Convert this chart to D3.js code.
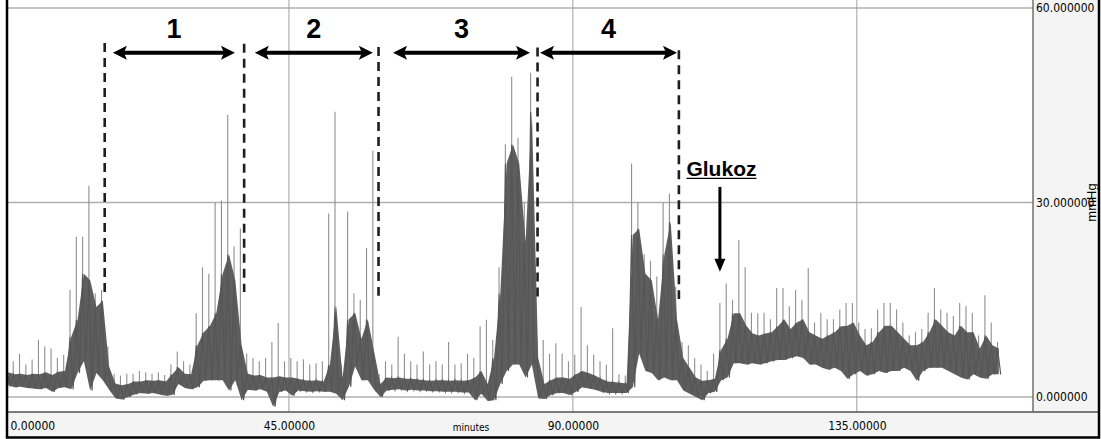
<!DOCTYPE html>
<html>
<head>
<meta charset="utf-8">
<script src="https://cdn.jsdelivr.net/npm/d3@7"></script>
<style>
  html, body { margin: 0; padding: 0; background: #fff; }
  svg { display: block; }
</style>
</head>
<body>
<svg id="chart" width="1101" height="439"></svg>
<script>
// Pressure trace summarised per minute: lower and upper edge of the noise band,
// and the tallest spike seen within that minute (mmHg).
const bandLow = [
  1.8,1.5,1.6,1.4,1.3,1.2,1.4,0.8,1.4,1.5,
  1.2,3.7,5.5,1.0,3.7,2.6,1.1,-0.2,-0.4,0.0,
  0.4,0.6,0.5,0.6,0.4,0.2,0.3,2.0,1.4,1.2,
  1.5,2.5,2.6,2.6,2.6,1.0,2.6,-0.5,1.1,1.0,
  1.2,0.8,-1.5,0.8,1.0,0.2,1.0,0.9,0.8,0.9,
  0.8,0.8,0.5,-0.5,1.6,4.7,2.6,2.6,1.1,0.0,
  1.0,1.1,1.2,1.0,1.1,1.0,1.0,0.9,0.9,0.8,
  0.8,0.8,0.7,0.7,-0.5,0.5,-0.6,-0.5,2.0,4.0,
  5.0,5.0,3.0,5.0,-0.2,-0.3,0.3,0.6,0.6,0.3,
  0.8,1.5,1.3,1.1,0.8,0.6,0.6,0.6,0.6,1.5,
  6.7,4.0,3.7,2.6,3.0,2.6,2.6,1.0,0.5,0.0,
  -0.5,0.6,0.8,2.6,3.0,5.2,5.2,5.0,5.2,5.0,
  5.2,5.5,5.7,5.7,6.0,6.3,6.0,5.0,5.0,4.5,
  4.2,4.5,4.0,2.8,3.5,4.0,3.3,3.5,4.0,3.7,
  4.0,4.0,4.5,4.0,2.5,4.0,4.5,4.5,4.5,4.0,
  3.5,3.0,2.7,3.5,3.0,2.8,3.5,3.5
];
const bandHigh = [
  3.8,3.5,3.6,3.4,3.6,3.5,3.8,3.4,3.9,4.0,
  9.3,11.9,19.0,18.0,13.9,14.9,4.7,2.1,1.8,2.0,
  2.4,2.4,2.6,2.5,2.6,2.4,3.5,4.6,3.6,3.5,
  8.0,10.0,11.0,13.0,19.0,22.0,18.0,8.0,3.6,3.3,
  3.4,3.0,3.0,3.2,3.0,3.0,2.8,2.6,2.5,2.6,
  2.4,5.0,14.0,3.0,12.0,13.0,9.0,12.0,7.0,2.0,
  3.0,2.9,3.0,2.8,2.8,2.7,2.6,2.5,2.6,2.6,
  2.5,2.6,2.5,2.6,3.0,4.0,2.0,6.0,16.0,36.0,
  39.0,36.0,24.0,44.0,6.0,2.0,2.6,3.0,3.0,2.8,
  3.5,4.0,3.7,3.3,2.8,2.4,2.3,2.2,2.1,25.0,
  26.0,19.0,18.0,12.0,22.0,27.0,12.0,6.0,4.5,3.0,
  2.5,2.6,2.8,7.3,9.0,12.9,12.9,11.0,9.8,9.5,
  9.8,10.0,10.9,12.0,10.5,11.5,12.0,10.0,9.5,9.0,
  9.5,10.0,10.9,11.0,11.5,9.5,8.0,8.5,10.0,11.0,
  11.0,10.0,9.0,8.0,8.0,8.5,10.0,12.0,11.0,10.0,
  9.5,11.0,10.0,10.0,7.5,9.5,8.0,7.5
];
const spikePeak = [
  6.0,5.5,6.7,5.0,5.8,8.8,7.8,7.5,6.0,6.5,
  16.5,24.7,24.7,32.6,16.0,16.5,7.8,3.6,3.3,3.6,
  3.6,4.0,3.8,3.6,3.8,3.4,5.0,7.0,5.5,5.0,
  12.9,20.0,19.0,30.0,30.3,43.5,23.2,26.0,6.7,6.0,
  5.5,6.0,8.5,11.4,5.5,6.0,5.5,5.8,5.0,5.2,
  5.5,28.3,44.0,5.0,28.6,16.0,15.0,23.0,38.0,3.5,
  5.5,5.0,9.3,6.7,5.5,5.0,7.0,5.0,5.5,5.0,
  8.5,5.0,5.2,6.7,6.0,10.9,11.9,8.8,20.0,39.0,
  49.4,40.0,30.0,50.0,9.0,8.8,6.7,8.3,6.7,5.5,
  6.5,13.9,8.0,6.5,5.5,5.0,10.6,3.5,3.3,36.0,
  30.0,22.0,21.0,18.6,30.0,31.4,17.0,8.5,8.0,6.0,
  5.0,4.0,6.7,14.5,17.5,15.0,24.2,20.0,13.0,12.9,
  13.0,12.0,16.8,16.8,14.0,16.5,15.0,19.9,11.5,13.0,
  12.0,12.0,13.5,14.5,14.5,11.5,10.5,10.6,13.5,14.5,
  14.5,13.5,11.5,9.5,10.0,10.5,13.0,16.8,13.5,13.0,
  12.5,14.5,14.0,13.0,9.5,15.7,11.5,8.5
];

// Axis ticks and titles
const xTicks = [0, 45, 90, 135];
const yTicks = [0, 30, 60];
const xTitle = "minutes";
const yTitle = "mmHg";

// Protocol annotations (minutes / mmHg)
const phaseEdges   = [15.8, 37.9, 59.2, 84.4, 106.8];
const phaseEdgeTop = [54.6, 54.5, 54.0, 53.9, 53.5];
const phaseEdgeBot = [16.2, 16.2, 15.6, 15.3, 15.1];
const phaseSpans   = [[17.1, 36.45], [39.6, 58.3], [61.5, 83.2], [84.8, 106.5]];
const phaseNames   = ["1", "2", "3", "4"];
const glucoseText  = "Glukoz";
const glucoseTime  = 113.3;
const glucoseFrom  = 32.4;
const glucoseTo    = 19.3;
const glucoseTextStart = 108.0;

// ---- layout ----
const W = 1101, H = 439;
const plot = { left: 8, right: 1033, top: 0, bottom: 412 };
const frame = { right: 1099, bottom: 437.5 };

const x = d3.scaleLinear().domain([0, 163]).range([5, 1033.5]);
const y = d3.scaleLinear().domain([0, 60]).range([397, 8]);

const svg = d3.select("#chart");
const tickFont = "'Liberation Sans Narrow', 'Arial Narrow', 'DejaVu Sans Condensed', sans-serif";
const plainFont = "'Liberation Sans', Arial, sans-serif";

svg.append("rect").attr("width", W).attr("height", H).attr("fill", "#fff");

// axis strips
svg.append("rect")
  .attr("x", plot.right).attr("y", 0)
  .attr("width", frame.right - plot.right).attr("height", plot.bottom)
  .attr("fill", "#f4f4f4");
svg.append("rect")
  .attr("x", plot.left).attr("y", plot.bottom)
  .attr("width", frame.right - plot.left).attr("height", frame.bottom - plot.bottom)
  .attr("fill", "#f4f4f4");

// grid
const grid = svg.append("g");
grid.selectAll("line.h").data(yTicks).join("line")
  .attr("x1", plot.left).attr("x2", plot.right)
  .attr("y1", d => y(d)).attr("y2", d => y(d))
  .attr("stroke", "#b0b0b0").attr("stroke-width", 1.6);
grid.selectAll("line.v").data(xTicks.filter(d => d > 0)).join("line")
  .attr("x1", d => x(d)).attr("x2", d => x(d))
  .attr("y1", plot.top).attr("y2", plot.bottom)
  .attr("stroke", "#a0a0a0").attr("stroke-width", 1);

// trace
svg.append("clipPath").attr("id", "plotClip")
  .append("rect")
  .attr("x", plot.left).attr("y", plot.top)
  .attr("width", plot.right - plot.left).attr("height", plot.bottom - plot.top);

const trace = svg.append("g").attr("clip-path", "url(#plotClip)");
const bins = bandLow.map((lo, i) => ({ t: i, lo, hi: bandHigh[i], pk: spikePeak[i] }));

// spikes
trace.selectAll("line.spike").data(bins).join("line")
  .attr("x1", d => x(d.t + 0.3)).attr("x2", d => x(d.t + 0.3))
  .attr("y1", d => y(d.hi)).attr("y2", d => y(d.pk))
  .attr("stroke", "#8f8f8f").attr("stroke-width", 1.1);

// band envelope
trace.append("path")
  .datum(bins)
  .attr("d", d3.area()
    .x(d => x(d.t + 0.5))
    .y0(d => y(d.lo))
    .y1(d => y(d.hi)))
  .attr("fill", "#5e5e5e");

// band texture: peak and trough of each minute in turn
const zig = [];
bins.forEach(d => { zig.push([d.t + 0.3, d.hi]); zig.push([d.t + 0.8, d.lo]); });
trace.append("path")
  .datum(zig)
  .attr("d", d3.line().x(d => x(d[0])).y(d => y(d[1])))
  .attr("fill", "none")
  .attr("stroke", "#565656")
  .attr("stroke-width", 1.2);

// separators and frame
svg.append("line").attr("x1", plot.left).attr("x2", frame.right)
  .attr("y1", plot.bottom).attr("y2", plot.bottom)
  .attr("stroke", "#505050").attr("stroke-width", 1.5);
svg.append("line").attr("x1", plot.right).attr("x2", plot.right)
  .attr("y1", 0).attr("y2", plot.bottom)
  .attr("stroke", "#707070").attr("stroke-width", 1.5);
svg.append("path")
  .attr("d", `M7,0 V${frame.bottom} H${frame.right} V0`)
  .attr("fill", "none").attr("stroke", "#000").attr("stroke-width", 2.5);

// bottom axis labels
const fmtX = d3.format(".5f");
const xLab = svg.append("g")
  .attr("transform", `translate(0,${plot.bottom})`)
  .call(d3.axisBottom(x).tickValues(xTicks).tickSize(0).tickPadding(0).tickFormat(fmtX));
xLab.select(".domain").remove();
xLab.selectAll("text")
  .attr("y", 18).attr("dy", 0)
  .attr("fill", "#000")
  .style("font-family", tickFont).style("font-size", "12px");
xLab.selectAll(".tick").filter(d => d === 0).select("text")
  .attr("text-anchor", "start").attr("x", 5);

svg.append("text")
  .attr("x", 471).attr("y", plot.bottom + 19)
  .attr("text-anchor", "middle")
  .style("font-family", tickFont).style("font-size", "10px")
  .text(xTitle);

// right axis labels
const fmtY = d3.format(".6f");
const yLab = svg.append("g")
  .attr("transform", `translate(${plot.right},0)`)
  .call(d3.axisRight(y).tickValues(yTicks).tickSize(0).tickPadding(3).tickFormat(fmtY));
yLab.select(".domain").remove();
yLab.selectAll("text")
  .attr("fill", "#000")
  .style("font-family", tickFont).style("font-size", "12px");

svg.append("text")
  .attr("transform", `translate(1096,${y(30)}) rotate(-90)`)
  .attr("text-anchor", "middle")
  .style("font-family", plainFont).style("font-size", "13px")
  .text(yTitle);

// ---- annotations ----
const ann = svg.append("g");

ann.selectAll("line.edge").data(phaseEdges).join("line")
  .attr("x1", d => x(d)).attr("x2", d => x(d))
  .attr("y1", (d, i) => y(phaseEdgeTop[i])).attr("y2", (d, i) => y(phaseEdgeBot[i]))
  .attr("stroke", "#1e1e1e").attr("stroke-width", 2.6)
  .attr("stroke-dasharray", "9,6");

const arrowY = y(53.1);
phaseSpans.forEach(([a, b], i) => {
  const x1 = x(a), x2 = x(b);
  ann.append("line")
    .attr("x1", x1 + 8).attr("x2", x2 - 8)
    .attr("y1", arrowY).attr("y2", arrowY)
    .attr("stroke", "#000").attr("stroke-width", 4);
  ann.append("path")
    .attr("d", `M${x1},${arrowY} L${x1 + 14},${arrowY - 7} L${x1 + 11},${arrowY} L${x1 + 14},${arrowY + 7} Z`)
    .attr("fill", "#000");
  ann.append("path")
    .attr("d", `M${x2},${arrowY} L${x2 - 14},${arrowY - 7} L${x2 - 11},${arrowY} L${x2 - 14},${arrowY + 7} Z`)
    .attr("fill", "#000");
  ann.append("text")
    .attr("x", (x1 + x2) / 2).attr("y", y(55.4))
    .attr("text-anchor", "middle")
    .style("font-family", plainFont).style("font-weight", "bold").style("font-size", "27px")
    .text(phaseNames[i]);
});

// glucose marker
const gx = x(glucoseTime);
const gText = ann.append("text")
  .attr("x", x(glucoseTextStart)).attr("y", y(34.1))
  .style("font-family", plainFont).style("font-weight", "bold").style("font-size", "21px")
  .text(glucoseText);
const gw = gText.node().getComputedTextLength();
ann.append("line")
  .attr("x1", x(glucoseTextStart)).attr("x2", x(glucoseTextStart) + gw)
  .attr("y1", y(34.1) + 2.5).attr("y2", y(34.1) + 2.5)
  .attr("stroke", "#000").attr("stroke-width", 1.4);
ann.append("line")
  .attr("x1", gx).attr("x2", gx)
  .attr("y1", y(glucoseFrom)).attr("y2", y(glucoseTo) - 10)
  .attr("stroke", "#000").attr("stroke-width", 3);
ann.append("path")
  .attr("d", `M${gx},${y(glucoseTo)} L${gx - 5.5},${y(glucoseTo) - 13} L${gx + 5.5},${y(glucoseTo) - 13} Z`)
  .attr("fill", "#000");
</script>
</body>
</html>
